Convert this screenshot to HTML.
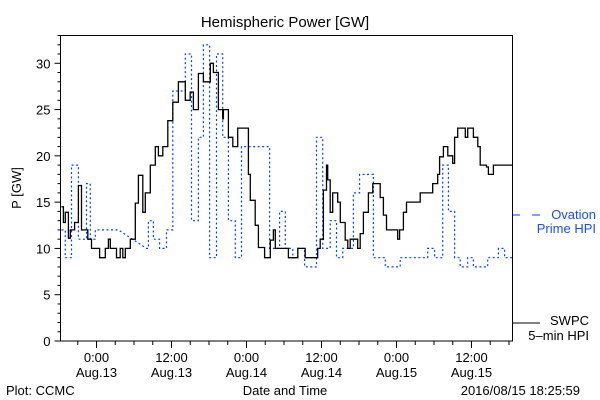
<!DOCTYPE html>
<html><head><meta charset="utf-8"><style>
body{margin:0;background:#fff;}
svg{display:block;font-family:"Liberation Sans",sans-serif;}
</style></head><body>
<svg id="chart" width="600" height="400" viewBox="0 0 600 400" xmlns="http://www.w3.org/2000/svg">
<rect x="0" y="0" width="600" height="400" fill="#fff"/>
<text x="285" y="27" font-size="15" text-anchor="middle">Hemispheric Power [GW]</text>
<text transform="translate(21,188) rotate(-90)" font-size="13" text-anchor="middle">P [GW]</text>
<text x="285" y="395" font-size="13" text-anchor="middle">Date and Time</text>
<text x="6" y="395" font-size="13">Plot: CCMC</text>
<text x="580" y="395" font-size="13" text-anchor="end">2016/08/15 18:25:59</text>
<g>
<line x1="513" y1="215" x2="520" y2="215" stroke="#0044ff" stroke-width="1"/>
<line x1="532" y1="215" x2="540" y2="215" stroke="#0044ff" stroke-width="1"/>
<text x="596" y="219" font-size="13" fill="#1a4cff" text-anchor="end">Ovation</text>
<text x="596" y="233" font-size="13" fill="#1a4cff" text-anchor="end">Prime HPI</text>
</g>
<g>
<line x1="512" y1="323" x2="540" y2="323" stroke="#000" stroke-width="1"/>
<text x="589" y="325" font-size="13" text-anchor="end">SWPC</text>
<text x="589" y="340" font-size="13" text-anchor="end">5–min HPI</text>
</g>
<g id="axes"></g>
<g id="series"></g>
<rect x="60.5" y="35.5" width="452" height="305.5" fill="none" stroke="#000" stroke-width="1"/>
</svg>
<script>
// x in hours from 2016-08-13 00:00
const xTickHours = [0, 12, 24, 36, 48, 60];
const xTickLines1 = ["0:00","12:00","0:00","12:00","0:00","12:00"];
const xTickLines2 = ["Aug.13","Aug.13","Aug.14","Aug.14","Aug.15","Aug.15"];
const yTickValues = [0,5,10,15,20,25,30];
const swpcHours = [-5.6,-5.3,-5.0,-4.5,-4.2,-3.5,-2.9,-2.4,-1.4,-0.8,0.5,1.4,1.9,2.2,3.2,3.8,4.2,4.6,5.4,6.2,6.7,7.4,7.8,8.6,9.4,9.9,10.6,11.4,12.2,13.1,14.2,15.0,15.5,16.3,17.1,18.2,18.7,19.5,20.2,20.3,21.1,21.8,22.6,23.7,24.3,24.6,25.4,25.9,26.9,27.8,28.3,28.6,29.9,30.7,32.2,33.4,35.0,35.4,35.8,36.3,36.8,37.0,37.4,37.8,38.2,38.6,39.0,39.8,40.2,40.6,41.4,41.8,42.2,42.7,43.5,44.2,45.0,45.4,45.9,46.4,47.8,48.2,48.5,49.1,49.6,51.4,51.8,53.0,53.8,54.6,54.9,55.5,56.2,57.0,57.3,57.8,58.7,59.0,59.4,60.2,60.3,61.0,61.4,62.4,62.7,63.4,63.5,66.6];
const swpcValues = [14.5,12.8,13.9,11.1,12,12.8,16.8,12,11,10,9,10,11,10,9,10,9,10,11,14.9,17.9,13.9,16,19,21,20,21,23.8,25.8,28,26,26.9,25,28.9,28,30,29,25,24,25,22,21,23,23,18,15.2,12.5,10.1,9,10.9,12,10,10,9,10,9,9,10,11,16.3,19,17.4,13.9,16,16,15,12.8,10.9,10,11,11,10,11.6,13.9,16,17,17,15.5,13.6,12,12,11,12,13.9,15,15,16,16,17,18,19.9,21,20,19.2,22,23,23,22,23,23,22,21,19,18.8,18,18,19,19];
const ovationHours = [-5.6,-5.0,-5.0,-4.0,-4.0,-2.9,-2.9,-1.6,-1.6,-1.0,-1.0,-0.2,-0.2,3.5,8.0,8.3,8.3,9.1,9.1,10.1,10.1,11.2,11.2,12.2,12.2,14.2,14.2,15.2,15.2,16.3,16.3,17.1,17.1,18.1,18.1,19.2,19.2,20.2,20.2,21.1,21.1,22.2,22.2,23.2,23.2,27.7,27.7,29.3,29.3,30.2,30.2,31.4,31.4,32.2,32.2,33.3,33.3,35.2,35.2,36.2,36.2,37.4,37.4,38.4,38.4,39.4,39.4,41.1,41.1,42.1,42.1,44.3,44.3,46.2,46.2,48.6,48.6,53.0,53.0,54.1,54.1,55.4,55.4,56.3,56.3,57.3,57.3,58.2,58.2,59.4,59.4,60.3,60.3,62.6,62.6,64.3,64.3,65.3,65.3,66.6];
const ovationValues = [12,12,9,9,19,19,11,11,17,17,11,11,12,12,10,10,13,13,11,11,10,10,12,12,27,27,31,31,13,13,22,22,32,32,9,9,31,31,22,22,13,13,9,9,21,21,10,10,14,14,10,10,9,9,10,10,8,8,22,22,10,10,13,13,9,9,10,10,16,16,18,18,9,9,8,8,9,9,10,10,9,9,19,19,14,14,9,9,8,8,9,9,8,8,9,9,10,10,9,9];

const X0=60.5, X1=512.5, Y0=341, Y1=35.5, HMIN=-5.76, HMAX=66.56, VMIN=0, VMAX=33;
const xs = h => X0 + (h-HMIN)/(HMAX-HMIN)*(X1-X0);
const ys = v => Y0 - (v-VMIN)/(VMAX-VMIN)*(Y0-Y1);
const NS="http://www.w3.org/2000/svg";
const axes=document.getElementById('axes'), series=document.getElementById('series');
function mk(tag, attrs, parent){const e=document.createElementNS(NS,tag);for(const k in attrs)e.setAttribute(k,attrs[k]);parent.appendChild(e);return e;}

// y minor/major ticks
for(let v=0; v<=33; v++){
  const t=mk('line',{x1:X0-(v%5===0?6:3),x2:X0,y1:ys(v),y2:ys(v),stroke:'#000','stroke-width':1},axes);
  
  
}
yTickValues.forEach(v=>{
  const t=mk('text',{x:X0-10,y:ys(v)+5,'font-size':13,'text-anchor':'end'},axes);
  t.textContent=String(v);
  
  
});
// x ticks every 3h
for(let h=-3; h<=66; h+=3){
  const major = h%12===0;
  const t=mk('line',{x1:xs(h),x2:xs(h),y1:Y0,y2:Y0+(major?7:4),stroke:'#000','stroke-width':1},axes);
  
  
}
xTickHours.forEach((h,i)=>{
  const t=mk('text',{x:xs(h),y:362,'font-size':13,'text-anchor':'middle'},axes);
  t.textContent=xTickLines1[i];
  
  
  const t2=mk('text',{x:xs(h),y:377,'font-size':13,'text-anchor':'middle'},axes);
  t2.textContent=xTickLines2[i];
  
  
});
// Ovation series
const op=mk('polyline',{points:ovationHours.map((h,i)=>xs(h).toFixed(1)+','+ys(ovationValues[i]).toFixed(1)).join(' '),fill:'none',stroke:'#0044ff','stroke-width':1.2,'stroke-dasharray':'2,2.5'},series);


// SWPC series (stepped)
let pts=[];
swpcHours.forEach((h,i)=>{
  if(i>0) pts.push(xs(h).toFixed(1)+','+ys(swpcValues[i-1]).toFixed(1));
  pts.push(xs(h).toFixed(1)+','+ys(swpcValues[i]).toFixed(1));
});
const sp=mk('polyline',{points:pts.join(' '),fill:'none',stroke:'#000','stroke-width':1.3},series);


</script>
</body></html>
